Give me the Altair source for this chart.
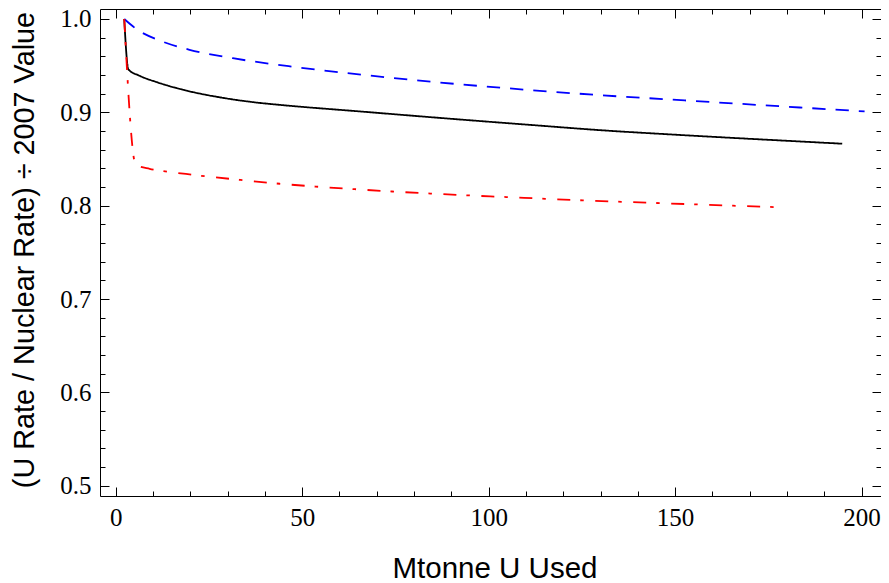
import altair as alt
import pandas as pd

# ---- data ----
black_x = [2.3, 3.4, 6.4, 10.9, 14.5, 19.8, 28.8, 37.7, 44, 66.3, 88.6, 111, 131, 147.6, 165.5, 183.4, 194.8]
black_y = [1.0, 0.946, 0.9392, 0.9325, 0.928, 0.9225, 0.9155, 0.9105, 0.908, 0.9007, 0.8935, 0.8866, 0.8806, 0.8766, 0.8726, 0.8688, 0.8664]

blue_x = [2.3, 6, 11.8, 19.8, 31.4, 48, 66.8, 85.7, 110.7, 129.8, 147.6, 165.5, 183.4, 200.8]
blue_y = [1.0, 0.988, 0.977, 0.967, 0.958, 0.9486, 0.940, 0.9324, 0.924, 0.9184, 0.9140, 0.9096, 0.9052, 0.9010]

red_x = [2.3, 5.4, 9.1, 12.2, 19.8, 33.2, 44, 53.6, 64, 74.1, 84.4, 94.7, 105, 115.2, 125.5, 147.6, 165.5, 178]
red_y = [1.0, 0.8437, 0.8395, 0.8375, 0.8335, 0.8277, 0.8235, 0.8205, 0.8177, 0.8152, 0.8130, 0.8110, 0.8092, 0.8074, 0.8057, 0.8025, 0.8000, 0.7983]

series_names = ["solid", "dashed", "dotdashed"]
series_colors = ["#000000", "#0000ff", "#ff0000"]
series_dashes = [[1, 0], [13.3, 10], [13, 10, 3.5, 11.5]]

x_major = [0, 50, 100, 150, 200]
x_minor = list(range(0, 210, 10))
y_major = [0.5, 0.6, 0.7, 0.8, 0.9, 1.0]
y_minor = [round(0.5 + 0.02 * i, 2) for i in range(26)]

x_title = "Mtonne U Used"
y_title = "(U Rate / Nuclear Rate) ÷ 2007 Value"

rows = []
for name, xs, ys in zip(series_names, [black_x, blue_x, red_x], [black_y, blue_y, red_y]):
    for i, (xv, yv) in enumerate(zip(xs, ys)):
        rows.append({"series": name, "order": i, "x": xv, "y": yv})
df = pd.DataFrame(rows)

xscale = alt.Scale(domain=[-4.2, 205.2], nice=False, zero=False)
yscale = alt.Scale(domain=[0.489, 1.0107], nice=False, zero=False)

base = alt.Chart(df)

def tick_axis(orient, values, size, **kw):
    return alt.Axis(orient=orient, values=values, offset=-size, tickSize=size,
                    domain=False, grid=False, tickColor="black", tickWidth=1,
                    **kw)

lines = base.mark_line(strokeWidth=1.8, interpolate="monotone").encode(
    x=alt.X("x:Q", scale=xscale,
            axis=tick_axis("bottom", x_major, 9, labels=True, labelFont="Liberation Serif",
                           labelFontSize=25, labelPadding=9, labelColor="black",
                           labelFlush=False, labelOverlap=False,
                           title=x_title, titleFont="Liberation Sans", titleFontSize=29.5,
                           titleFontWeight="normal", titleColor="black",
                           titleBaseline="alphabetic", titleAlign="center",
                           titleX=394.5, titleY=90)),
    y=alt.Y("y:Q", scale=yscale,
            axis=tick_axis("left", y_major, 9, labels=True, labelFont="Liberation Serif",
                           labelFontSize=25, labelPadding=9, labelColor="black",
                           labelFlush=False, labelOverlap=False, format=".1f",
                           title=y_title, titleFont="Liberation Sans", titleFontSize=28.8,
                           titleFontWeight="normal", titleColor="black",
                           titleBaseline="alphabetic", titleAlign="center",
                           titleAngle=270, titleX=-76, titleY=240.5)),
    color=alt.Color("series:N", scale=alt.Scale(domain=series_names, range=series_colors), legend=None),
    strokeDash=alt.StrokeDash("series:N", scale=alt.Scale(domain=series_names, range=series_dashes), legend=None),
    order="order:Q",
)

def ghost(xo, xv, xs, yo, yv, ys):
    return base.mark_point(opacity=0).encode(
        x=alt.X("x:Q", scale=xscale, axis=tick_axis(xo, xv, xs, labels=False, title=None)),
        y=alt.Y("y:Q", scale=yscale, axis=tick_axis(yo, yv, ys, labels=False, title=None)),
    )

minor_bl = ghost("bottom", x_minor, 5, "left", y_minor, 5)
major_tr = ghost("top", x_major, 9, "right", y_major, 9)
minor_tr = ghost("top", x_minor, 5, "right", y_minor, 5)

chart = alt.layer(lines, minor_bl, major_tr, minor_tr).resolve_axis(
    x="independent", y="independent"
).properties(
    width=781, height=487,
    autosize=alt.AutoSizeParams(type="none"),
    padding={"left": 92, "top": 1, "right": 0, "bottom": 87},
    background="white",
).configure_view(stroke="black", strokeWidth=1)

chart.save("out.html", embed_options={"renderer": "svg", "actions": False})
